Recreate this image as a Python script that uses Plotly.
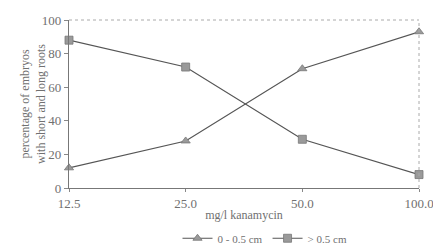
import plotly.graph_objects as go

categories = ["12.5", "25.0", "50.0", "100.0"]
short_roots = [12, 28, 71, 93]   # triangles
long_roots = [88, 72, 29, 8]     # squares
y_ticks = [0, 20, 40, 60, 80, 100]

font_family = "Liberation Serif, Times New Roman, serif"
txt_col = "#707070"
line_col = "#555555"

fig = go.Figure()
fig.add_trace(go.Scatter(
    x=categories, y=short_roots, mode="lines+markers", name="0 - 0.5 cm",
    line=dict(color=line_col, width=1.2),
    marker=dict(symbol="triangle-up", size=8, color="#9a9a9a",
                line=dict(color="#777777", width=0.8)),
    cliponaxis=False,
))
fig.add_trace(go.Scatter(
    x=categories, y=long_roots, mode="lines+markers", name="> 0.5 cm",
    line=dict(color=line_col, width=1.2),
    marker=dict(symbol="square", size=8, color="#9a9a9a",
                line=dict(color="#777777", width=0.8)),
    cliponaxis=False,
))

fig.update_layout(
    width=433, height=250,
    margin=dict(l=69, r=14, t=20, b=62, autoexpand=False),
    paper_bgcolor="white", plot_bgcolor="white",
    font=dict(family=font_family, color=txt_col, size=13),
    showlegend=True,
    legend=dict(orientation="h", x=0.56, xanchor="center",
                yref="container", y=0.105, yanchor="top",
                font=dict(size=11, color=txt_col), bgcolor="rgba(0,0,0,0)",
                tracegroupgap=0, itemsizing="trace"),
    xaxis=dict(
        type="category", range=[0, 3], showgrid=False, zeroline=False,
        showline=True, linecolor="#777777", linewidth=1.2,
        ticks="outside", ticklen=3, tickcolor="#888888",
        tickfont=dict(size=13, color=txt_col),
        title=dict(text="mg/l kanamycin", font=dict(size=12, color=txt_col), standoff=0),
    ),
    yaxis=dict(
        range=[0, 100], tickvals=y_ticks, showgrid=False, zeroline=False,
        showline=True, linecolor="#777777", linewidth=1.2,
        ticks="outside", ticklen=4, tickcolor="#888888",
        tickfont=dict(size=13, color=txt_col),
    ),
    annotations=[
        dict(text="percentage of embryos<br>with short and long roots",
             xref="paper", yref="paper", x=-0.103, y=0.5, xanchor="center", yanchor="middle",
             textangle=-90, showarrow=False, font=dict(size=12, color=txt_col)),
    ],
    shapes=[
        dict(type="line", xref="paper", yref="paper", x0=0, x1=1, y0=1, y1=1,
             line=dict(color="#aaaaaa", width=1, dash="dot")),
        dict(type="line", xref="paper", yref="paper", x0=1, x1=1, y0=0, y1=1,
             line=dict(color="#aaaaaa", width=1, dash="dot")),
    ],
)

fig.write_html("out.html")
